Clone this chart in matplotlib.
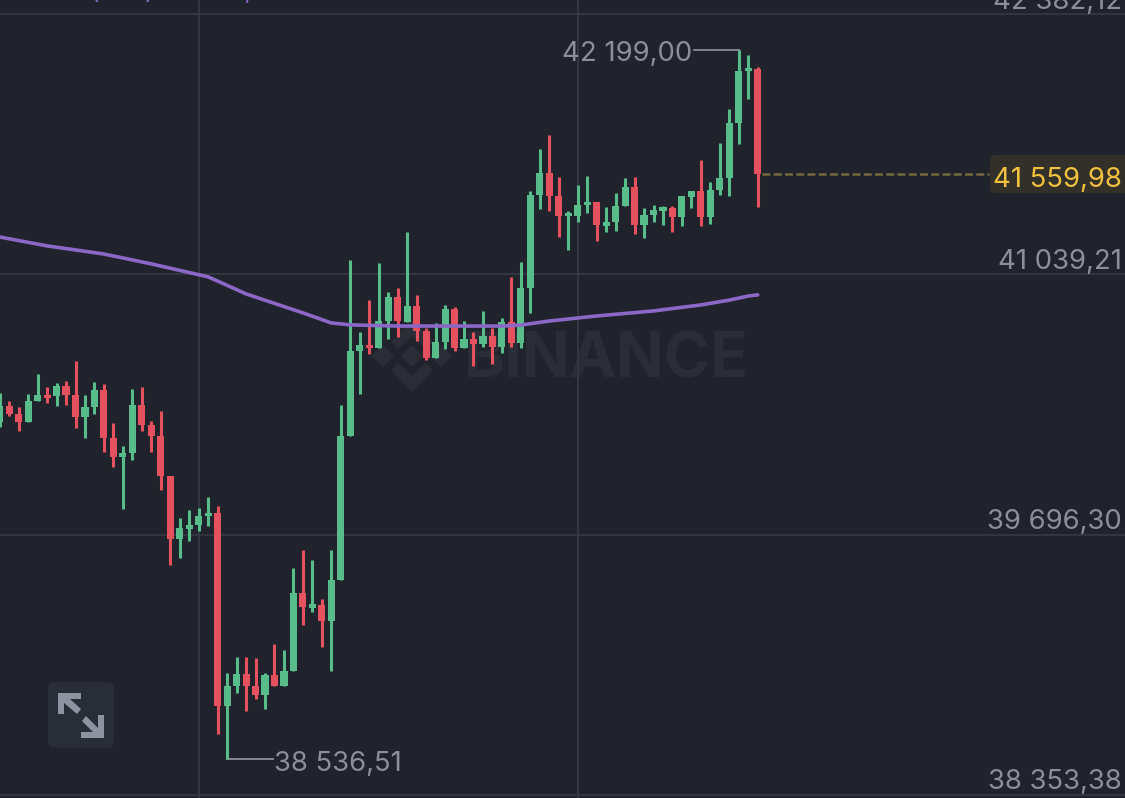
import matplotlib
matplotlib.use("Agg")
import matplotlib.pyplot as plt
from matplotlib.patches import FancyBboxPatch, Polygon

# Candle data (price), index 0 is the partly cut candle at the left edge
opens = [40279,40362,40319,40279,40386,40418,40412,40463,40417,40303,40356,40443,40196,40097,40117,40367,40262,40205,39998,39673,39726,39747,39792,39809,38812,38915,38976,38914,38867,38971,38915,38991,39394,39318,39334,39250,39461,40207,40644,40675,40661,40799,40923,40795,40878,40749,40608,40691,40863,40660,40706,40680,40722,40665,40794,40685,40971,41450,41565,41445,41341,41343,41398,41415,41291,41312,41393,41491,41295,41348,41369,41384,41336,41441,41470,41338,41476,41539,41822,42090,42102]
highs = [40427,40387,40356,40422,40525,40458,40480,40489,40592,40417,40484,40474,40272,40153,40448,40458,40283,40336,39998,39782,39823,39833,39892,39844,38981,39064,39064,39058,38983,39131,39100,39523,39616,39565,39363,39616,40365,41114,40744,40907,41099,40949,40969,41260,40933,40763,40789,40882,40873,40801,40744,40852,40763,40815,41026,41104,41470,41687,41760,41544,41367,41501,41548,41415,41389,41460,41538,41543,41383,41398,41393,41393,41445,41470,41631,41519,41718,41894,42199,42173,42111]
lows = [40252,40308,40231,40279,40386,40376,40362,40365,40248,40196,40319,40122,40046,39830,40083,40231,40122,39928,39539,39575,39664,39716,39740,38666,38536.51,38879,38786,38847,38795,38915,38915,38991,39229,39296,39117,38991,39461,40205,40422,40629,40661,40708,40718,40795,40697,40598,40608,40654,40646,40660,40568,40665,40577,40635,40665,40660,40840,41379,41369,41234,41166,41310,41358,41212,41259,41264,41393,41248,41228,41310,41295,41259,41290,41383,41290,41300,41450,41446,41713,41946,41388]
closes = [40362,40319,40279,40387,40417,40400,40463,40417,40303,40356,40443,40196,40098,40117,40367,40262,40205,39998,39673,39730,39747,39793,39809,38812,38915,38976,38915,38867,38971,38915,38991,39394,39322,39337,39250,39461,40205,40644,40675,40660,40799,40923,40801,40878,40747,40608,40691,40861,40660,40706,40680,40722,40665,40794,40685,40971,41450,41565,41445,41341,41357,41398,41415,41295,41310,41393,41491,41295,41348,41372,41388,41336,41445,41470,41338,41477,41539,41822,42090,42106,41559.98]

# Moving average, sampled at a few candles
ma_index = [0,5,11,16,22,26,32,35,37,42,48,53,55,58,63,69,74,77,79,80]
ma_values = [41233,41187,41145,41094,41027,40939,40841,40789,40779,40773,40773,40773,40778,40799,40825,40851,40882,40907,40928,40934]

grid_prices = [42382.12, 41039.21, 39696.30, 38353.38]
grid_labels = ["42 382,12", "41 039,21", "39 696,30", "38 353,38"]
grid_candles = [21, 61]
max_label, min_label = "42 199,00", "38 536,51"
max_price, min_price = 42199.00, 38536.51
max_candle, min_candle = 78, 24
last_price, last_label = 41559.98, "41 559,98"
ma_label = "MA(200) 40 934,28"

BG = "#20232C"; GRID = "#353944"; UP = "#58BD8B"; DOWN = "#E5515F"
TXT = "#8B8F9B"; MA = "#8B68C8"; GOLD = "#F0C23E"
FONT = "Inter"; FS = 19.8
W, H = 1125, 798
fig = plt.figure(figsize=(W/100, H/100), dpi=100, facecolor=BG)

# pixel-space layer below the chart: watermark, button, price tag
bg = fig.add_axes([0, 0, 1, 1], zorder=0)
bg.set_xlim(0, W); bg.set_ylim(H, 0); bg.axis("off")
WM = "#2A2D36"
for cx, r in [(383, 11), (412, 11), (441, 11)]:
    bg.add_patch(Polygon([(cx-r, 356), (cx, 356-r), (cx+r, 356), (cx, 356+r)], fc=WM, ec="none"))
bg.add_patch(Polygon([(391, 370), (398, 363), (412, 376), (426, 363), (433, 370), (412, 392)], fc=WM, ec="none"))
bg.add_patch(Polygon([(391, 342), (398, 349), (412, 336), (426, 349), (433, 342), (412, 320)], fc=WM, ec="none"))
bg.text(464, 378, "BINANCE", family=FONT, weight="bold", fontsize=45, color=WM, va="baseline", ha="left")
bg.add_patch(FancyBboxPatch((48, 682), 66, 66, boxstyle="round,pad=0,rounding_size=7", fc="#292D38", ec="none"))
ic = "#8E93A1"
bg.add_patch(Polygon([(58, 693), (81, 693), (81, 699), (70, 699), (81, 709), (77, 714), (64, 703), (64, 714), (58, 714)], fc=ic, ec="none"))
bg.add_patch(Polygon([(104, 738), (81, 738), (81, 732), (93, 732), (82, 721), (86, 716), (98, 728), (98, 715), (104, 715)], fc=ic, ec="none"))
bg.add_patch(FancyBboxPatch((990, 155), 150, 38, boxstyle="round,pad=0,rounding_size=5", fc="#332F29", ec="none"))
# legend line, cut by the picture's top edge as in the reference
bg.text(52, -1, ma_label, family=FONT, fontsize=17.5, color=MA, va="baseline", ha="left")

# chart layer
ax = fig.add_axes([0, 0, 1, 1], zorder=1)
ax.patch.set_alpha(0)
ax.set_xlim(0.03, 118.76)
ax.set_ylim(42457 - 5.165*H, 42457)
ax.axis("off")
for p in grid_prices:
    ax.axhline(p, color=GRID, lw=1.2, zorder=1)
for c in grid_candles:
    ax.axvline(c, color=GRID, lw=1.2, zorder=1)
for i, (o, h, l, c) in enumerate(zip(opens, highs, lows, closes)):
    col = UP if c >= o else DOWN
    ax.plot([i, i], [l, h], color=col, lw=2.2, solid_capstyle="butt", zorder=3)
    ax.bar(i, abs(c-o), bottom=min(o, c), width=0.75, color=col, lw=0, zorder=3)
ax.plot(ma_index, ma_values, color=MA, lw=2.6, zorder=4, solid_capstyle="round")

for p, s in zip(grid_prices, grid_labels):
    ax.annotate(s, (1, p), xycoords=("axes fraction", "data"), xytext=(-2, 4.3), textcoords="offset points",
                ha="right", va="baseline", family=FONT, fontsize=FS, color=TXT, zorder=5)

# max / min markers
ax.plot([max_candle-4.7, max_candle], [max_price, max_price], color=TXT, lw=1.3, zorder=2)
ax.annotate(max_label, (max_candle-4.9, max_price), xytext=(0, -8), textcoords="offset points", ha="right", va="baseline",
            family=FONT, fontsize=FS, color=TXT)
ax.plot([min_candle, min_candle+4.8], [min_price, min_price], color=TXT, lw=1.3, zorder=2)
ax.annotate(min_label, (min_candle+4.9, min_price), xytext=(0, -8.6), textcoords="offset points", ha="left", va="baseline",
            family=FONT, fontsize=FS, color=TXT)

# last price
ax.plot([80.4, 104.4], [last_price, last_price], color="#75693F", lw=1.8, dashes=(3.2, 1.3), zorder=2)
ax.annotate(last_label, (1, last_price), xycoords=("axes fraction", "data"), xytext=(-2, -9.4), textcoords="offset points",
            ha="right", va="baseline", family=FONT, fontsize=FS, color=GOLD, zorder=6)
fig.savefig("out.png", dpi=100, facecolor=BG)
